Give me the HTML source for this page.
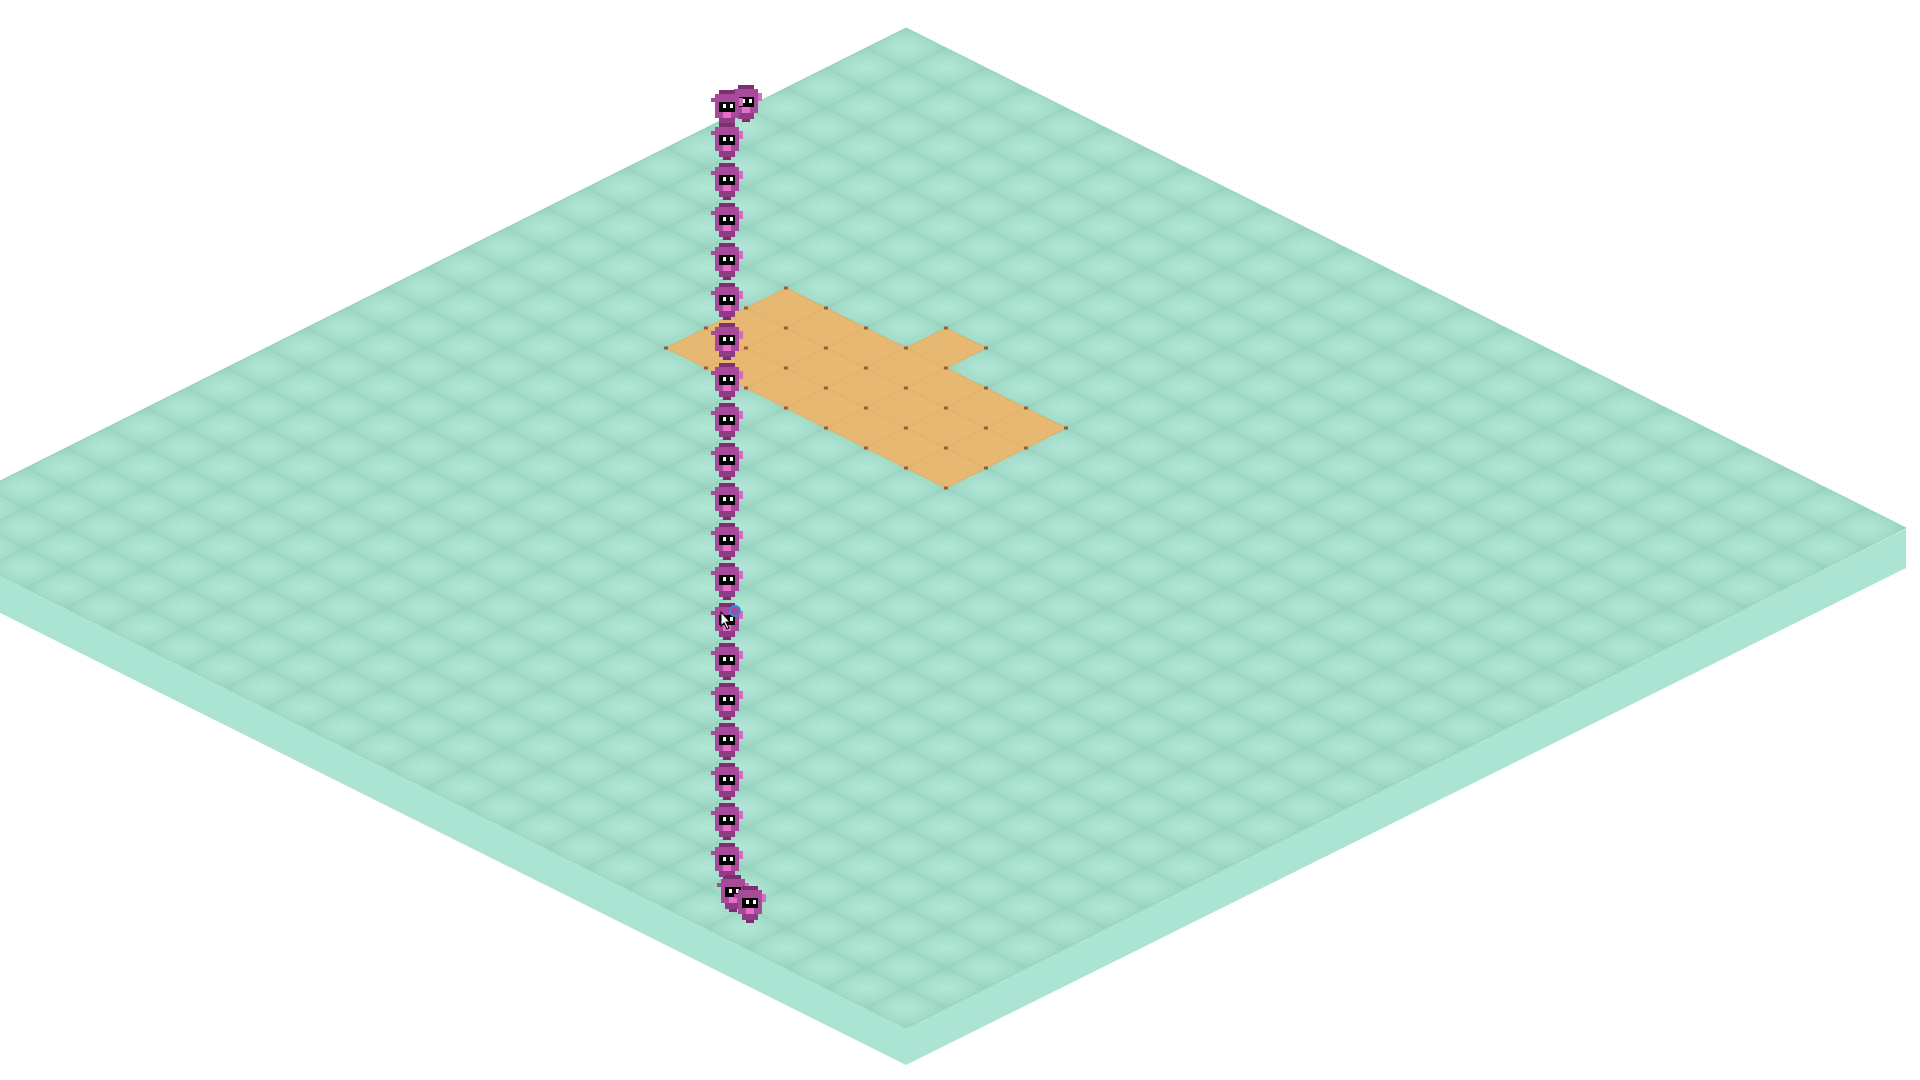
<!DOCTYPE html>
<html><head><meta charset="utf-8"><style>
html,body{margin:0;padding:0;background:#fff;width:1920px;height:1080px;overflow:hidden}
svg{display:block}
</style></head><body>
<svg id="scene" width="1920" height="1080" viewBox="0 0 1920 1080" xmlns="http://www.w3.org/2000/svg">
<defs>
<radialGradient id="tileg" cx="50%" cy="50%" r="55%">
<stop offset="0" stop-color="#b3e7d7"/><stop offset="0.6" stop-color="#a3dcc9"/><stop offset="1" stop-color="#93d0bb"/>
</radialGradient>
<g id="critter">
<rect x="-8" y="-18" width="16" height="4" fill="#7d2f72"/>
<rect x="-12" y="-14" width="24" height="4" fill="#a64a99"/>
<rect x="-16" y="-10" width="32" height="4" fill="#a64a99"/>
<rect x="12" y="-10" width="4" height="8" fill="#d56bc3"/>
<rect x="-12" y="-6" width="24" height="16" fill="#a64a99"/>
<rect x="-8" y="-6" width="16" height="10" fill="#000"/>
<rect x="-4" y="-4" width="3" height="4" fill="#fff"/>
<rect x="3" y="-4" width="3" height="4" fill="#fff"/>
<rect x="-4" y="4" width="8" height="8" fill="#e96cc9"/>
<rect x="-8" y="10" width="16" height="6" fill="#8e3d84"/>
<rect x="-4" y="16" width="8" height="3" fill="#7d2f72"/>
</g>
</defs>
<polygon points="-94,527 906,1026 1906,529 1906,568 906,1065 -94,566" fill="#ace4d3"/>
<g id="tiles"></g>
<g id="sand"></g>
<g id="critters"></g>
<circle cx="735" cy="611" r="5" fill="none" stroke="#2d8be0" stroke-width="2"/>
<path d="M721,612 l0,14 l3,-3 l3,6 l2,-1 l-3,-6 l4,0 z" fill="#fff" stroke="#000" stroke-width="1"/>
</svg>
<script>
const NS='http://www.w3.org/2000/svg';
const gridSize=25;
const sandTiles=[];
for(let i=5;i<12;i++)for(let j=8;j<11;j++)sandTiles.push([i,j]);
sandTiles.push([8,7]);
const critterYs=[141,181,221,261,301,341,381,421,461,501,541,581,621,661,701,741,781,821,861];
const extraCritters=[[746,103],[727,108],[733,893],[750,904]];
function P(i,j){return [906+40*(i-j),28+20*(i+j)];}
function poly(i,j){const a=P(i,j),b=P(i+1,j),c=P(i+1,j+1),d=P(i,j+1);return [a,b,c,d].map(p=>p.join(',')).join(' ');}
const tg=document.getElementById('tiles');
for(let i=0;i<gridSize;i++)for(let j=0;j<gridSize;j++){
 const t=document.createElementNS(NS,'polygon');
 t.setAttribute('points',poly(i,j));t.setAttribute('fill','url(#tileg)');
 t.setAttribute('stroke','#96d3bf');t.setAttribute('stroke-width','1');
 
 
 tg.appendChild(t);
}
const sg=document.getElementById('sand');
sandTiles.forEach(([i,j])=>{
 const t=document.createElementNS(NS,'polygon');
 t.setAttribute('points',poly(i,j));t.setAttribute('fill','#e6b872');
 t.setAttribute('stroke','#e0b06a');t.setAttribute('stroke-width','1');
 
 
 sg.appendChild(t);
 [[i,j],[i+1,j],[i,j+1],[i+1,j+1]].forEach(([a,b])=>{
  const p=P(a,b);const d=document.createElementNS(NS,'rect');
  d.setAttribute('x',p[0]-2);d.setAttribute('y',p[1]-1.5);d.setAttribute('width',4);d.setAttribute('height',3);d.setAttribute('fill','#9a5a32');
  
  
  sg.appendChild(d);
 });
});
const cg=document.getElementById('critters');
function addCritter(x,y){
 const u=document.createElementNS(NS,'use');
 u.setAttribute('href','#critter');u.setAttribute('transform','translate('+x+','+y+')');
 
 
 cg.appendChild(u);
}
addCritter(extraCritters[0][0],extraCritters[0][1]);
addCritter(extraCritters[1][0],extraCritters[1][1]);
critterYs.forEach(y=>addCritter(727,y));
addCritter(extraCritters[2][0],extraCritters[2][1]);
addCritter(extraCritters[3][0],extraCritters[3][1]);
</script>
</body></html>
